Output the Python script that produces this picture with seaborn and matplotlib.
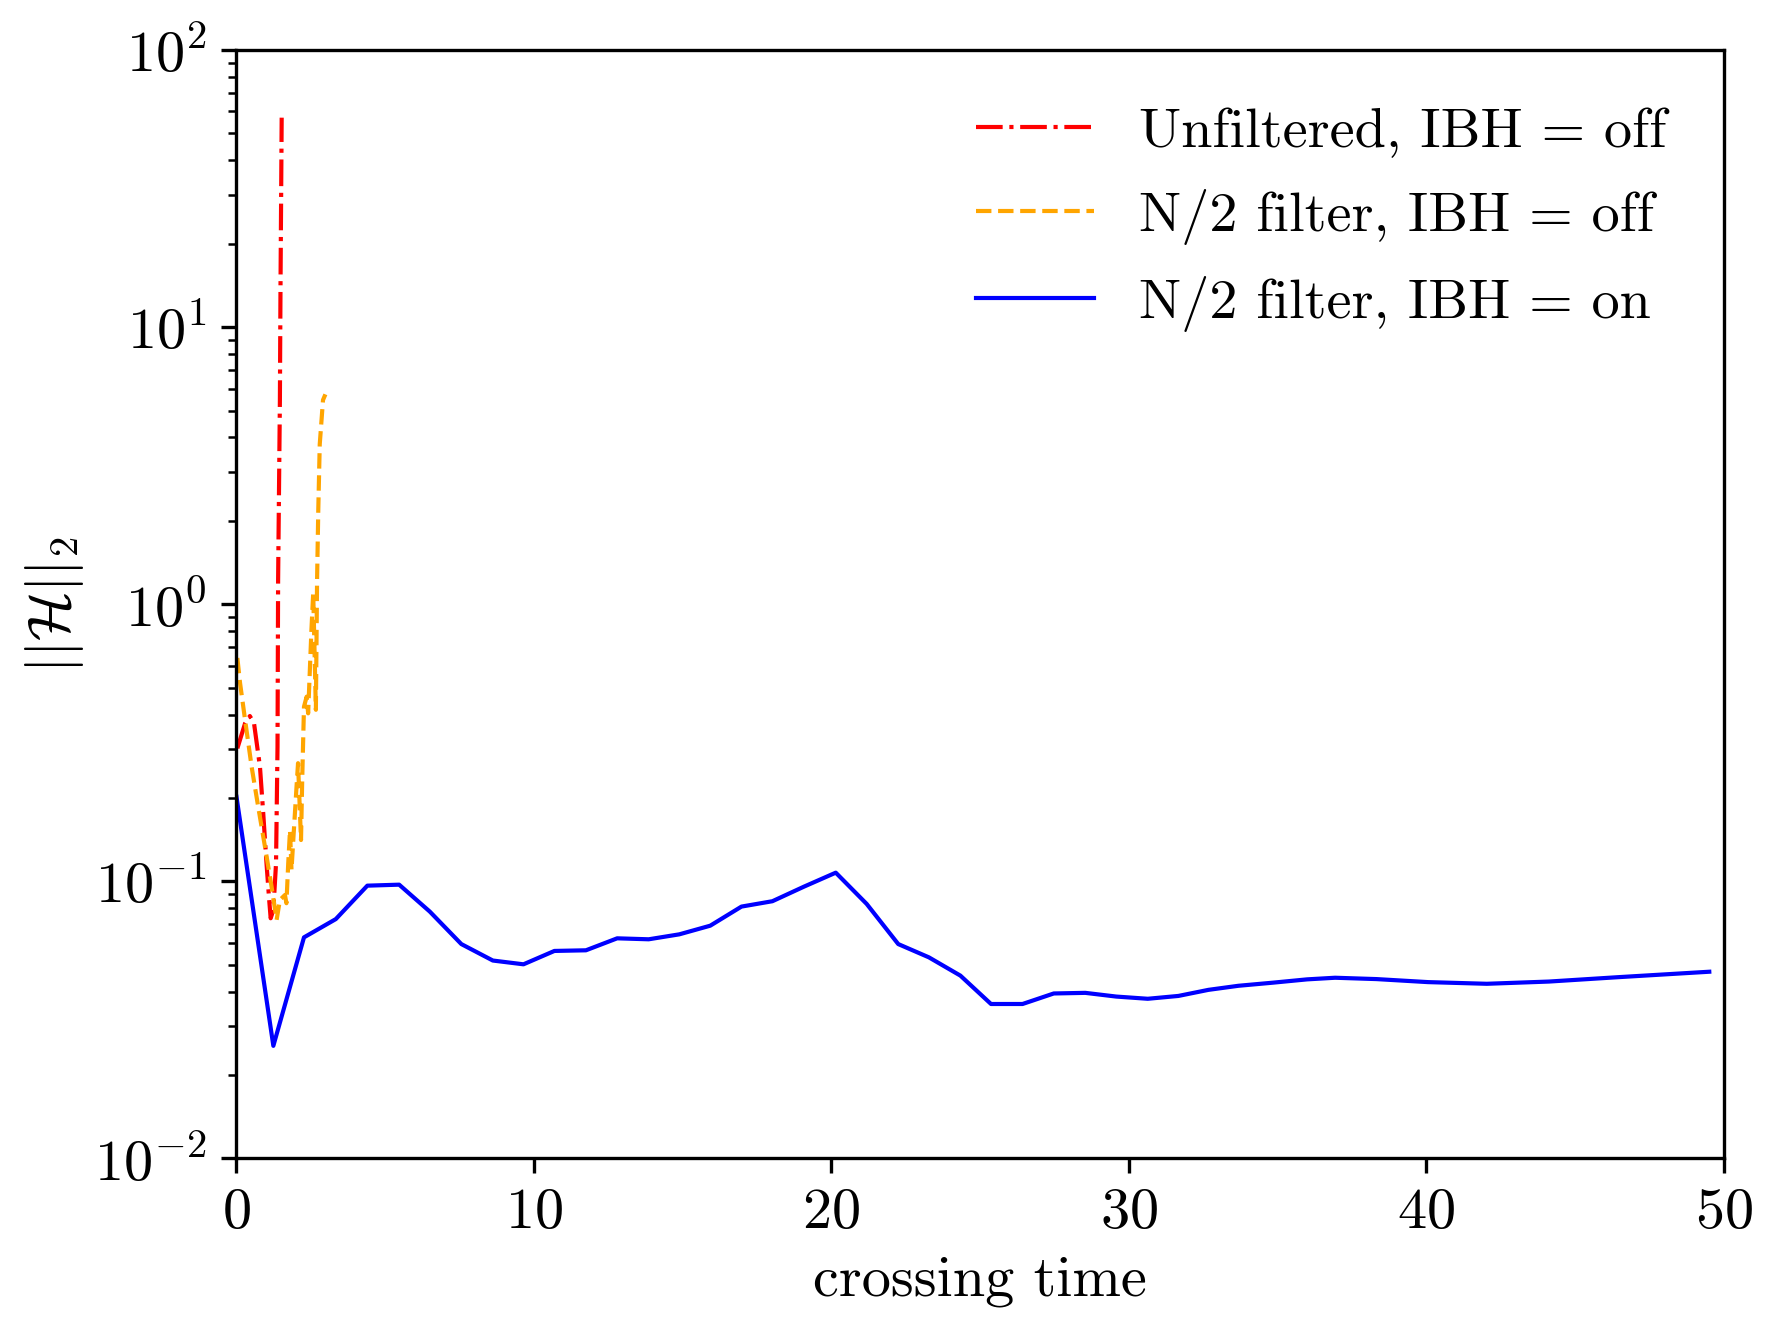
import numpy as np
import pandas as pd
import matplotlib
matplotlib.use("Agg")
import matplotlib.pyplot as plt
import seaborn as sns

# -----------------------------
# Data
# -----------------------------

# Unfiltered, IBH = off
t_red = [0.03, 0.29, 0.45, 0.59, 0.79, 0.90, 1.01, 1.10, 1.15, 1.24, 1.33,
         1.38, 1.40, 1.46, 1.48, 1.52]
h_red = [0.302, 0.372, 0.395, 0.372, 0.259, 0.176, 0.116, 0.0857, 0.0736,
         0.0789, 0.116, 0.306, 1.22, 5.46, 13.7, 57.0]

# N/2 filter, IBH = off
t_orange = [0.03, 0.12, 0.29, 0.51, 0.73, 0.96, 1.18, 1.35, 1.46, 1.63, 1.68,
            1.74, 1.80, 1.85, 1.91, 2.02, 2.07, 2.17, 2.21, 2.27, 2.36, 2.41,
            2.52, 2.58, 2.67, 2.71, 2.75, 2.80, 2.91, 2.99]
h_orange = [0.64, 0.52, 0.382, 0.259, 0.186, 0.133, 0.0957, 0.0726, 0.0857,
            0.0893, 0.0834, 0.116, 0.153, 0.110, 0.141, 0.220, 0.267, 0.141,
            0.232, 0.427, 0.464, 0.404, 0.807, 1.10, 0.416, 1.22, 2.17, 3.78,
            5.46, 5.72]

# N/2 filter, IBH = on
t_blue = [0.0, 1.24, 2.27, 3.34, 4.40, 5.47, 6.50, 7.56, 8.62, 9.65, 10.69,
          11.75, 12.80, 13.86, 14.89, 15.93, 16.98, 18.02, 19.08, 20.15, 21.19,
          22.25, 23.28, 24.34, 25.37, 26.43, 27.48, 28.54, 29.58, 30.64, 31.67,
          32.68, 33.69, 34.85, 36.0, 36.94, 38.33, 40.06, 42.04, 44.13, 46.44,
          49.52]
h_blue = [0.202, 0.0255, 0.0628, 0.0731, 0.0965, 0.0973, 0.0778, 0.0594,
          0.0518, 0.0502, 0.0561, 0.0564, 0.0623, 0.0618, 0.0644, 0.0692,
          0.0811, 0.0848, 0.0957, 0.1075, 0.0829, 0.0594, 0.0532, 0.0457,
          0.0361, 0.0361, 0.0394, 0.0396, 0.0384, 0.0377, 0.0386, 0.0406,
          0.0420, 0.0431, 0.0443, 0.0449, 0.0444, 0.0433, 0.0427, 0.0435,
          0.0451, 0.0472]

labels = ["Unfiltered, IBH = off", "N/2 filter, IBH = off", "N/2 filter, IBH = on"]

# -----------------------------
# Style
# -----------------------------

plt.rcParams["font.family"] = "serif"
plt.rcParams["font.serif"] = ["cmr10", "DejaVu Serif"]
plt.rcParams["mathtext.fontset"] = "cm"
plt.rcParams["axes.formatter.use_mathtext"] = True
plt.rcParams["font.size"] = 14
plt.rcParams["axes.unicode_minus"] = False

fig = plt.figure(figsize=(5.94, 4.47), dpi=300)
ax = fig.add_axes([0.1327, 0.1361, 0.9672 - 0.1327, 0.9627 - 0.1361])

df_red = pd.DataFrame({"t": t_red, "h": h_red})
df_orange = pd.DataFrame({"t": t_orange, "h": h_orange})
df_blue = pd.DataFrame({"t": t_blue, "h": h_blue})

sns.lineplot(data=df_red, x="t", y="h", ax=ax, color="red", linestyle="-.",
             linewidth=1.0, label=labels[0], estimator=None, sort=False)
sns.lineplot(data=df_orange, x="t", y="h", ax=ax, color="orange", linestyle="--",
             linewidth=1.0, label=labels[1], estimator=None, sort=False)
sns.lineplot(data=df_blue, x="t", y="h", ax=ax, color="blue", linestyle="-",
             linewidth=1.0, label=labels[2], estimator=None, sort=False)

ax.set_yscale("log")
ax.set_xlim(0, 50)
ax.set_ylim(1e-2, 1e2)
ax.set_xticks([0, 10, 20, 30, 40, 50])

ax.set_xlabel("crossing time")
ax.set_ylabel(r"$||\mathcal{H}||_2$", labelpad=2)

ax.legend(loc="upper right", frameon=False, fontsize=13.5,
          borderaxespad=0.62, labelspacing=0.55, handlelength=2.1)

plt.savefig("out.png", dpi=300)
